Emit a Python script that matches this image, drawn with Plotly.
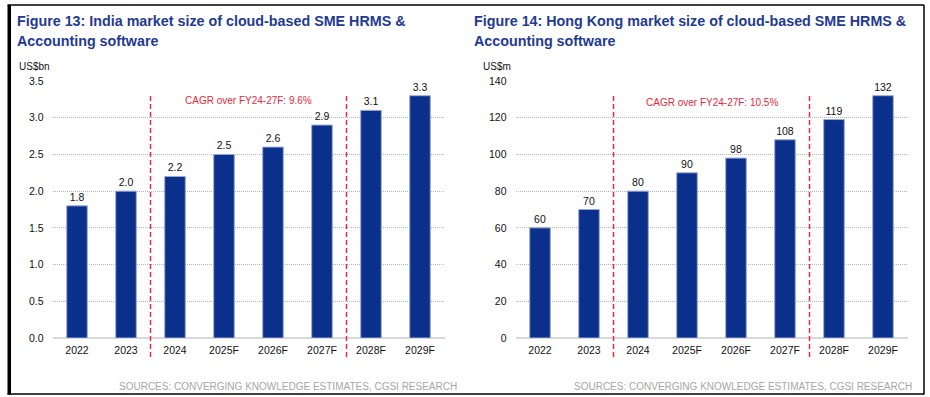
import plotly.graph_objects as go

categories = ["2022", "2023", "2024", "2025F", "2026F", "2027F", "2028F", "2029F"]
india_values = [1.8, 2.0, 2.2, 2.5, 2.6, 2.9, 3.1, 3.3]
india_labels = ["1.8", "2.0", "2.2", "2.5", "2.6", "2.9", "3.1", "3.3"]
hk_values = [60, 70, 80, 90, 98, 108, 119, 132]
hk_labels = ["60", "70", "80", "90", "98", "108", "119", "132"]
india_ticks = [0, 0.5, 1.0, 1.5, 2.0, 2.5, 3.0, 3.5]
india_ticktext = ["0.0", "0.5", "1.0", "1.5", "2.0", "2.5", "3.0", "3.5"]
hk_ticks = [0, 20, 40, 60, 80, 100, 120, 140]

W, H = 930, 397
FONT = "Arial, Liberation Sans, sans-serif"
BAR = "#0B308C"
RED = "#E8283C"
TITLE = "#1F3A93"

def px(x):
    return x / W

def py(y):
    return 1 - y / H

fig = go.Figure()
fig.add_trace(go.Bar(x=categories, y=india_values, text=india_labels, textposition="outside",
                     marker=dict(color=BAR, line=dict(color="#9aaad6", width=1)),
                     textfont=dict(size=10.5, color="#111", family=FONT), cliponaxis=False,
                     xaxis="x", yaxis="y", width=0.42))
fig.add_trace(go.Bar(x=categories, y=hk_values, text=hk_labels, textposition="outside",
                     marker=dict(color=BAR, line=dict(color="#9aaad6", width=1)),
                     textfont=dict(size=10.5, color="#111", family=FONT), cliponaxis=False,
                     xaxis="x2", yaxis="y2", width=0.42))

ydom = [py(338), py(81)]
common_x = dict(showgrid=False, showline=False, ticks="", automargin=False, ticklabelstandoff=4,
                tickfont=dict(size=10.5, color="#111", family=FONT), fixedrange=True)
common_y = dict(showgrid=True, gridcolor="#b8b8b8", griddash="1px,1px", gridwidth=1, zeroline=True,
                zerolinecolor="#d9d9d9", zerolinewidth=2, ticks="", ticklabelstandoff=8, automargin=False,
                tickfont=dict(size=10.5, color="#111", family=FONT), domain=ydom)

fig.update_layout(
    width=W, height=H, margin=dict(l=0, r=0, t=0, b=0, autoexpand=False),
    paper_bgcolor="white", plot_bgcolor="white", showlegend=False,
    font=dict(family=FONT),
    xaxis=dict(domain=[px(52.5), px(444.5)], anchor="y", **common_x),
    yaxis=dict(range=[0, 3.5], tickvals=india_ticks, ticktext=india_ticktext, anchor="x", **common_y),
    xaxis2=dict(domain=[px(515.5), px(907.5)], anchor="y2", **common_x),
    yaxis2=dict(range=[0, 140], tickvals=hk_ticks, anchor="x2", **common_y),
)

shapes = []
for xr, yr in [("x", "y domain"), ("x2", "y2 domain")]:
    for xv in [1.5, 5.5]:
        shapes.append(dict(type="line", xref=xr, yref=yr, x0=xv, x1=xv, y0=-0.074, y1=0.953,
                           line=dict(color=RED, width=1.5, dash="5px,3px")))
# frame
shapes.append(dict(type="rect", xref="paper", yref="paper", x0=px(7.5), x1=px(11), y0=py(394.5), y1=py(5),
                   fillcolor="black", line=dict(width=0)))
shapes.append(dict(type="line", xref="paper", yref="paper", x0=px(7.5), x1=px(924), y0=py(5), y1=py(5),
                   line=dict(color="black", width=1.5)))
shapes.append(dict(type="line", xref="paper", yref="paper", x0=px(924), x1=px(924), y0=py(5), y1=py(394.5),
                   line=dict(color="black", width=1.5)))
shapes.append(dict(type="line", xref="paper", yref="paper", x0=px(7.5), x1=px(924), y0=py(394), y1=py(394),
                   line=dict(color="black", width=1.5)))
fig.update_layout(shapes=shapes)

ann = []
def text(x, y, s, size, color, xanchor="left", bold=False):
    ann.append(dict(xref="paper", yref="paper", x=px(x), y=py(y), text=("<b>%s</b>" % s) if bold else s,
                    showarrow=False, xanchor=xanchor, yanchor="middle",
                    font=dict(size=size, color=color, family=FONT)))

text(15, 21, "Figure 13: India market size of cloud-based SME HRMS &", 14.3, TITLE, bold=True)
text(15, 41, "Accounting software", 14.3, TITLE, bold=True)
text(472, 21, "Figure 14: Hong Kong market size of cloud-based SME HRMS &", 14.3, TITLE, bold=True)
text(472, 41, "Accounting software", 14.3, TITLE, bold=True)
text(17, 66, "US$bn", 10, "#111")
text(481, 66, "US$m", 10, "#111")
text(459, 386, "SOURCES: CONVERGING KNOWLEDGE ESTIMATES, CGSI RESEARCH", 10, "#a6a6a6", xanchor="right")
text(914, 386, "SOURCES: CONVERGING KNOWLEDGE ESTIMATES, CGSI RESEARCH", 10, "#a6a6a6", xanchor="right")
ann.append(dict(xref="x", yref="paper", x=3.5, y=py(100), text="CAGR over FY24-27F: 9.6%", showarrow=False,
                xanchor="center", yanchor="middle", font=dict(size=10, color=RED, family=FONT)))
ann.append(dict(xref="x2", yref="paper", x=3.5, y=py(102), text="CAGR over FY24-27F: 10.5%", showarrow=False,
                xanchor="center", yanchor="middle", font=dict(size=10, color=RED, family=FONT)))
fig.update_layout(annotations=ann)

post = ("document.documentElement.style.margin='0';document.documentElement.style.overflow='hidden';"
        "document.body.style.margin='0';document.body.style.padding='0';document.body.style.overflow='hidden';"
        "var d=document.getElementById('{plot_id}');d.style.position='fixed';d.style.top='0px';d.style.left='0px';")
fig.write_html("out.html", config={"displayModeBar": False, "staticPlot": True}, post_script=post)
